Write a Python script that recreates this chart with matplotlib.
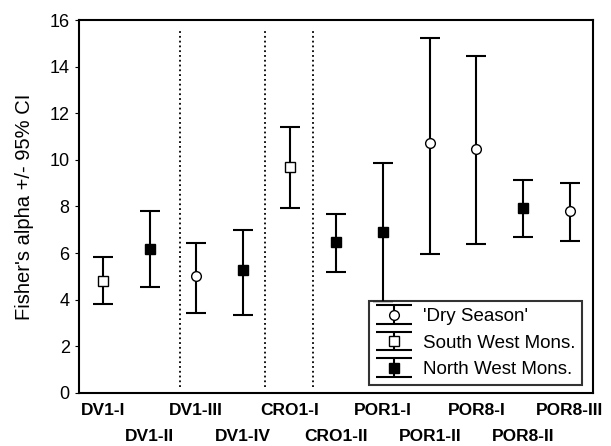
import matplotlib.pyplot as plt
import numpy as np

plt.rcParams['font.family'] = ['Liberation Sans', 'DejaVu Sans']

# data
sites = ['DV1-I', 'DV1-II', 'DV1-III', 'DV1-IV', 'CRO1-I', 'CRO1-II',
         'POR1-I', 'POR1-II', 'POR8-I', 'POR8-II', 'POR8-III']
alpha = [4.8, 6.17, 5.01, 5.27, 9.69, 6.48, 6.9, 10.72, 10.45, 7.95, 7.81]
upper = [5.84, 7.8, 6.45, 7.0, 11.39, 7.69, 9.88, 15.22, 14.45, 9.12, 9.0]
lower = [3.8, 4.54, 3.41, 3.33, 7.92, 5.2, 3.92, 5.98, 6.37, 6.67, 6.51]
season = ['sw', 'nw', 'dry', 'nw', 'sw', 'nw', 'nw', 'dry', 'dry', 'nw', 'dry']
dividers = [2.65, 4.47, 5.5]

styles = {
    'dry': dict(marker='o', mfc='white', label="'Dry Season'"),
    'sw': dict(marker='s', mfc='white', label='South West Mons.'),
    'nw': dict(marker='s', mfc='black', label='North West Mons.'),
}

fig = plt.figure(figsize=(6.11, 4.46), dpi=100)
ax = fig.add_axes([0.13, 0.119, 0.841, 0.836])

x = np.arange(1, len(sites) + 1)
alpha = np.array(alpha)
yerr = [alpha - np.array(lower), np.array(upper) - alpha]

handles = []
for key in ['dry', 'sw', 'nw']:
    idx = [i for i, s in enumerate(season) if s == key]
    st = styles[key]
    ax.errorbar(x[idx], alpha[idx], yerr=[yerr[0][idx], yerr[1][idx]],
                fmt=st['marker'], mfc=st['mfc'], mec='black', ms=7,
                ecolor='black', elinewidth=1.5, capsize=7, capthick=1.5,
                zorder=3)
    # proxy with wide caps, only for the legend
    h = ax.errorbar([np.nan], [np.nan], yerr=[[1], [1]],
                    fmt=st['marker'], mfc=st['mfc'], mec='black', ms=7,
                    ecolor='black', elinewidth=1.5, capsize=13, capthick=1.5,
                    label=st['label'])
    handles.append(h)

for d in dividers:
    ax.axvline(d, ymin=0.016, ymax=0.973, color='black', ls=':', lw=1.3)

ax.set_xlim(0.5, 11.5)
ax.set_ylim(0, 16)
ax.set_yticks(range(0, 17, 2))
ax.tick_params(axis='y', labelsize=13, direction='out', length=3, pad=4)

# two staggered rows of site labels
ax.set_xticks(x[::2])
ax.set_xticklabels(sites[::2], fontsize=12.5, fontweight='bold')
ax.set_xticks(x[1::2], minor=True)
ax.set_xticklabels(sites[1::2], minor=True, fontsize=12.5, fontweight='bold')
ax.tick_params(axis='x', which='major', length=0, pad=7)
ax.tick_params(axis='x', which='minor', length=0, pad=26)

ax.set_ylabel("Fisher's alpha +/- 95% CI", fontsize=14.5)
ax.yaxis.set_label_coords(-0.088, 0.5)
for sp in ax.spines.values():
    sp.set_linewidth(1.5)

leg = ax.legend(handles=handles, loc='lower right', bbox_to_anchor=(0.978, 0.022),
                borderaxespad=0, fontsize=13.5, frameon=True, fancybox=False,
                edgecolor='black', handlelength=2.0, borderpad=0.35,
                labelspacing=0.5, handletextpad=0.55)
leg.get_frame().set_linewidth(1.5)
leg.set_zorder(5)

plt.savefig('out.png', dpi=100)
